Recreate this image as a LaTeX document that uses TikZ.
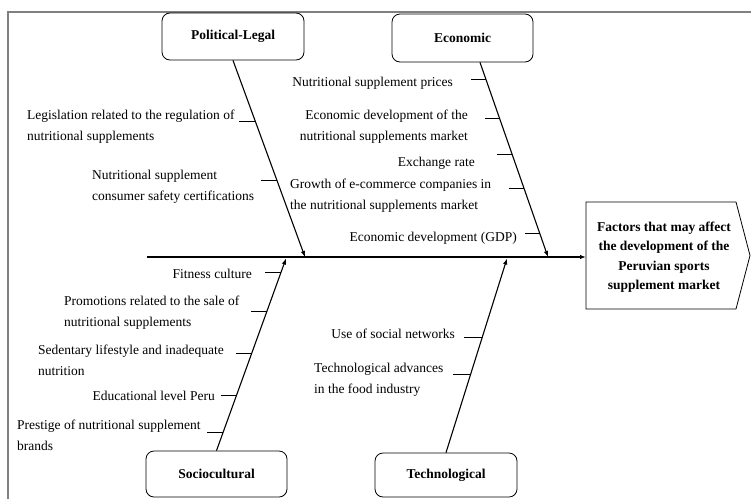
\documentclass[tikz,border=0pt]{standalone}
\usepackage{fontspec}
\setmainfont{Liberation Serif}
\usetikzlibrary{arrows.meta,calc}
\begin{document}
\begin{tikzpicture}[x=1pt,y=-1pt,
  catbox/.style={draw, rounded corners=8pt, minimum width=142pt, minimum height=47pt, inner sep=0pt,
     font=\bfseries\fontsize{13.5}{16}\selectfont, line width=0.8pt},
  bone/.style={line width=1.1pt, -{Latex[length=6pt,width=4.5pt]}},
  spineline/.style={line width=1.5pt, -{Latex[length=6pt,width=4.5pt]}},
  tickline/.style={line width=0.8pt},
  lbl/.style={inner sep=0pt, font=\fontsize{13.5}{21}\selectfont},
  framel/.style={draw=gray, line width=1.3pt}]
\useasboundingbox (0,0) rectangle (751,498);
% frame
\draw[framel] (8,510) -- (8,12) -- (770,12);
% category boxes
\node[catbox] (pl) at (233,36.5) {Political-Legal};
\node[catbox, minimum width=141pt, minimum height=48pt] (ec) at (462.5,38) {Economic};
\node[catbox, minimum width=141pt, minimum height=46pt] (sc) at (216.5,474) {Sociocultural};
\node[catbox, minimum width=142pt, minimum height=44pt] (tc) at (446,475) {Technological};
% effect box
\draw[line width=0.8pt] (586,202) -- (736,202) -- (750,255.5) -- (736,309) -- (586,309) -- cycle;
\node[inner sep=0pt, align=center, font=\bfseries\fontsize{13.5}{19.5}\selectfont] (eff) at (664,257)
  {Factors that may affect\\the development of the\\Peruvian sports\\supplement market};
% spine
\coordinate (tail) at (147,257);
\coordinate (head) at (586,257);
\draw[spineline] (tail) -- (head);
% bone end points
\coordinate (plA) at (pl.south);
\coordinate (plB) at (305,257);
\coordinate (ecA) at ([xshift=17.5pt]ec.south);
\coordinate (ecB) at (548,257);
\coordinate (scA) at (sc.north);
\coordinate (scB) at (286,258.5);
\coordinate (tcA) at (tc.north);
\coordinate (tcB) at (507,258.5);
\draw[bone] (plA) -- (plB);
\draw[bone] (ecA) -- (ecB);
\draw[bone] (scA) -- (scB);
\draw[bone] (tcA) -- (tcB);
% ticks
\foreach \t in {0.31,0.61} \draw[tickline] ($(plA)!\t!(plB)$) -- ++(-16,0);
\foreach \t in {0.087,0.287,0.472,0.646,0.877} \draw[tickline] ($(ecA)!\t!(ecB)$) -- ++(-15,0);
\foreach \t in {0.927,0.725,0.508,0.29,0.093} \draw[tickline] ($(scA)!\t!(scB)$) -- ++(-16,0);
\foreach \t in {0.595,0.405} \draw[tickline] ($(tcA)!\t!(tcB)$) -- ++(-18,0);
% Political-Legal causes
\node[lbl, anchor=west, align=left] (p1) at (27,127) {Legislation related to the regulation of\\nutritional supplements};
\node[lbl, anchor=west, align=left] (p2) at (92,187) {Nutritional supplement\\consumer safety certifications};
% Economic causes
\node[lbl, anchor=east] (e1) at (453,83) {Nutritional supplement prices};
\node[lbl, anchor=east, align=right] (e2) at (468,127) {Economic development of the\\nutritional supplements market};
\node[lbl, anchor=east] (e3) at (475,163) {Exchange rate};
\node[lbl, anchor=west, align=left] (e4) at (290,196) {Growth of e-commerce companies in\\the nutritional supplements market};
\node[lbl, anchor=east] (e5) at (517,238) {Economic development (GDP)};
% Sociocultural causes
\node[lbl, anchor=east] (s1) at (252,274) {Fitness culture};
\node[lbl, anchor=west, align=left] (s2) at (64,313) {Promotions related to the sale of\\nutritional supplements};
\node[lbl, anchor=west, align=left] (s3) at (38,360) {Sedentary lifestyle and inadequate\\nutrition};
\node[lbl, anchor=east] (s4) at (215,396) {Educational level Peru};
\node[lbl, anchor=west, align=left] (s5) at (17,435) {Prestige of nutritional supplement\\brands};
% Technological causes
\node[lbl, anchor=east] (t1) at (455,334) {Use of social networks};
\node[lbl, anchor=west, align=left] (t2) at (314,380) {Technological advances\\in the food industry};
\end{tikzpicture}
\end{document}
